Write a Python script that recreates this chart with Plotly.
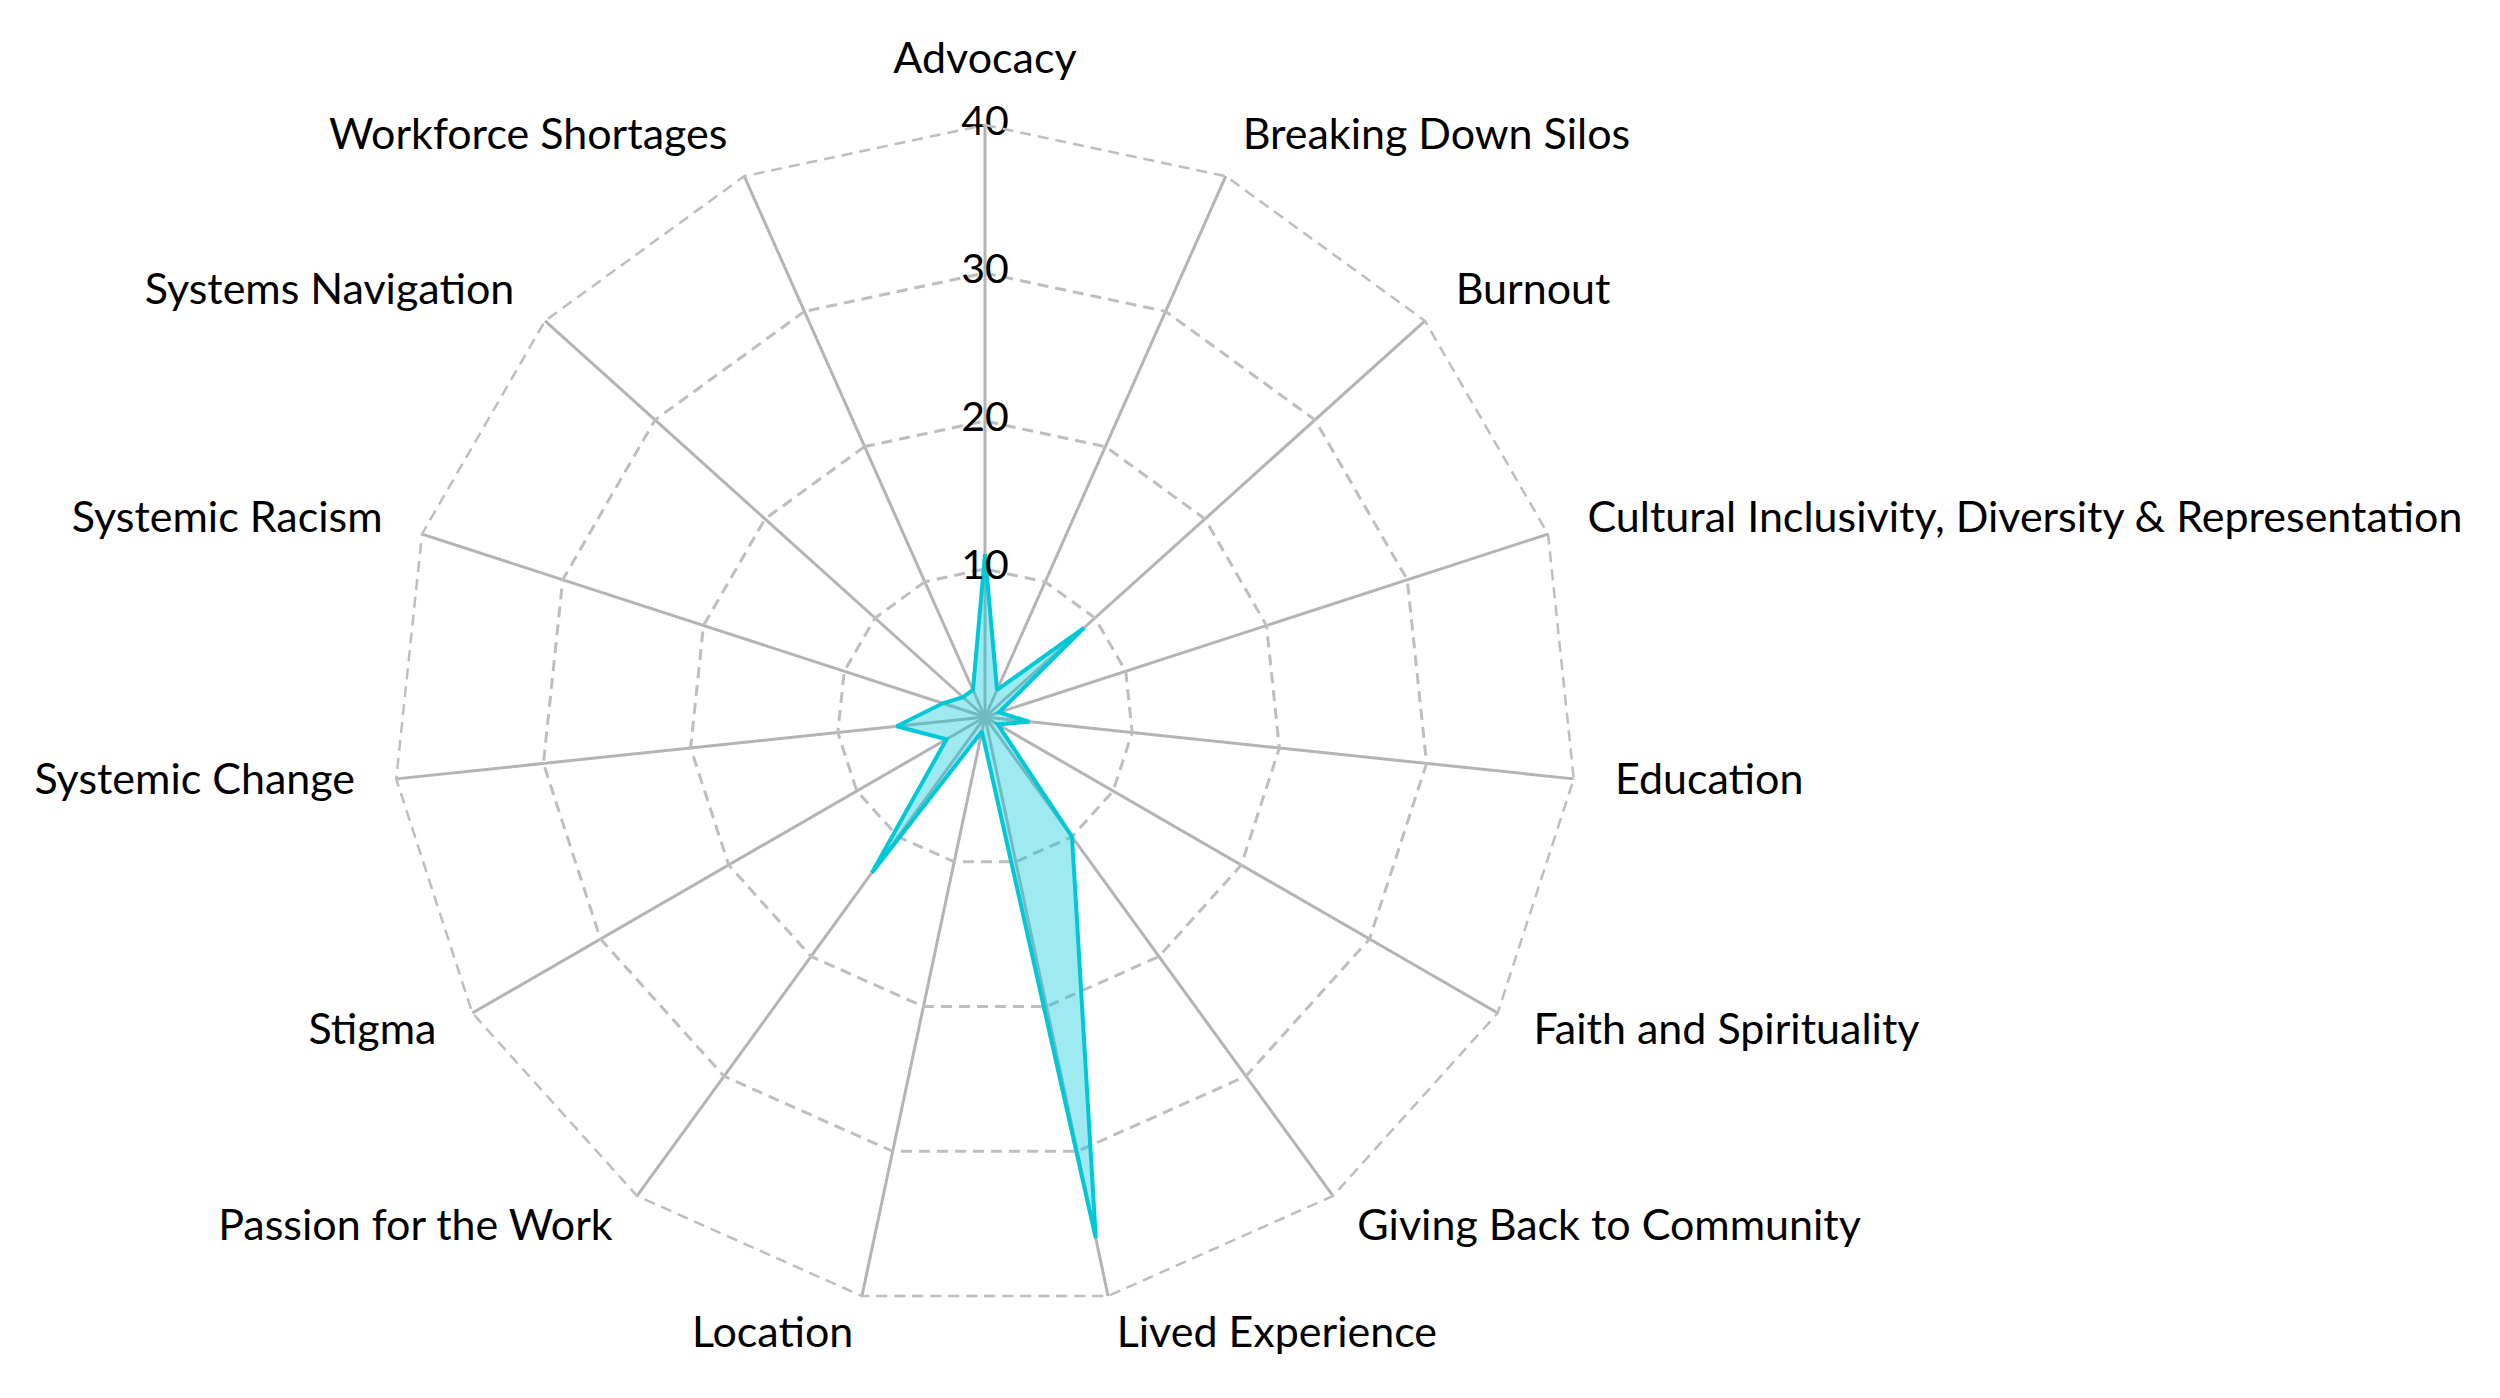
import plotly.graph_objects as go

categories = [
    "Advocacy", "Breaking Down Silos", "Burnout",
    "Cultural Inclusivity, Diversity & Representation", "Education",
    "Faith and Spirituality", "Giving Back to Community", "Lived Experience",
    "Location", "Passion for the Work", "Stigma", "Systemic Change",
    "Systemic Racism", "Systems Navigation", "Workforce Shortages",
]
values = [11, 2, 9, 1, 3, 1, 10, 36, 1, 13, 3, 6, 3, 2, 2]
radial_ticks = [0, 10, 20, 30, 40]

FONT = "Lato"
LINE = "#00C8D7"
FILL = "rgba(0,200,215,0.38)"
GRID = "#BEBEBE"
SPOKE = "#B4B4B4"
DASH = "11px,7px"
GW = 2.5

n = len(categories)
rmax = radial_ticks[-1]
label_scale = 1.07  # label anchors sit just outside the outer ring

# plot geometry (pixels of the 2500x1398 page)
W, H = 2500, 1398
cx, cy, R = 985, 717, 592


def dom(rad):
    return dict(x=[(cx - rad) / W, (cx + rad) / W],
                y=[1 - (cy + rad) / H, 1 - (cy - rad) / H])


# label alignment by side of the chart (clockwise from top)
label_pos = []
for i in range(n):
    if i == 0:
        label_pos.append("top center")
    elif i < n / 2:
        label_pos.append("middle right")
    else:
        label_pos.append("middle left")

fig = go.Figure()
fig.add_trace(go.Scatterpolar(
    r=values + values[:1],
    theta=categories + categories[:1],
    mode="lines",
    line=dict(color=LINE, width=4),
    fill="toself",
    fillcolor=FILL,
    showlegend=False,
))
# radial tick labels, centred on the Advocacy spoke
fig.add_trace(go.Scatterpolar(
    r=radial_ticks,
    theta=[categories[0]] * len(radial_ticks),
    mode="text",
    text=[str(v) for v in radial_ticks],
    textposition="middle center",
    textfont=dict(family=FONT, size=41, color="black"),
    hoverinfo="skip",
    showlegend=False,
))
# outer dashed ring (top tick value) drawn on the unclipped overlay polar
fig.add_trace(go.Scatterpolar(
    r=[rmax / label_scale] * (n + 1),
    theta=categories + categories[:1],
    mode="lines",
    line=dict(color=GRID, width=GW, dash=DASH),
    hoverinfo="skip",
    showlegend=False,
    subplot="polar2",
))
# category labels on the overlay polar of the same centre
fig.add_trace(go.Scatterpolar(
    r=[rmax] * n,
    theta=categories,
    mode="text",
    text=categories,
    textposition=label_pos,
    textfont=dict(family=FONT, size=43, color="black"),
    cliponaxis=False,
    hoverinfo="skip",
    showlegend=False,
    subplot="polar2",
))

angular_common = dict(
    categoryorder="array",
    categoryarray=categories,
    direction="clockwise",
    rotation=90,
)

fig.update_layout(
    width=W, height=H,
    paper_bgcolor="white",
    plot_bgcolor="white",
    margin=dict(l=0, r=0, t=0, b=0),
    font=dict(family=FONT, size=43, color="black"),
    polar=dict(
        domain=dom(R),
        bgcolor="white",
        gridshape="linear",
        radialaxis=dict(
            range=[0, rmax],
            tickvals=radial_ticks,
            showticklabels=False,
            ticks="",
            showline=False,
            gridcolor=GRID,
            griddash=DASH,
            gridwidth=GW,
            angle=90,
        ),
        angularaxis=dict(
            **angular_common,
            showline=False,
            gridcolor=SPOKE,
            gridwidth=GW,
            ticks="",
            showticklabels=False,
        ),
    ),
    polar2=dict(
        domain=dom(R * label_scale),
        bgcolor="rgba(0,0,0,0)",
        gridshape="linear",
        radialaxis=dict(range=[0, rmax], visible=False),
        angularaxis=dict(**angular_common, visible=False),
    ),
)

fig.write_html(
    "out.html",
    config={"displayModeBar": False},
    post_script="document.body.style.margin='0px';",
)
